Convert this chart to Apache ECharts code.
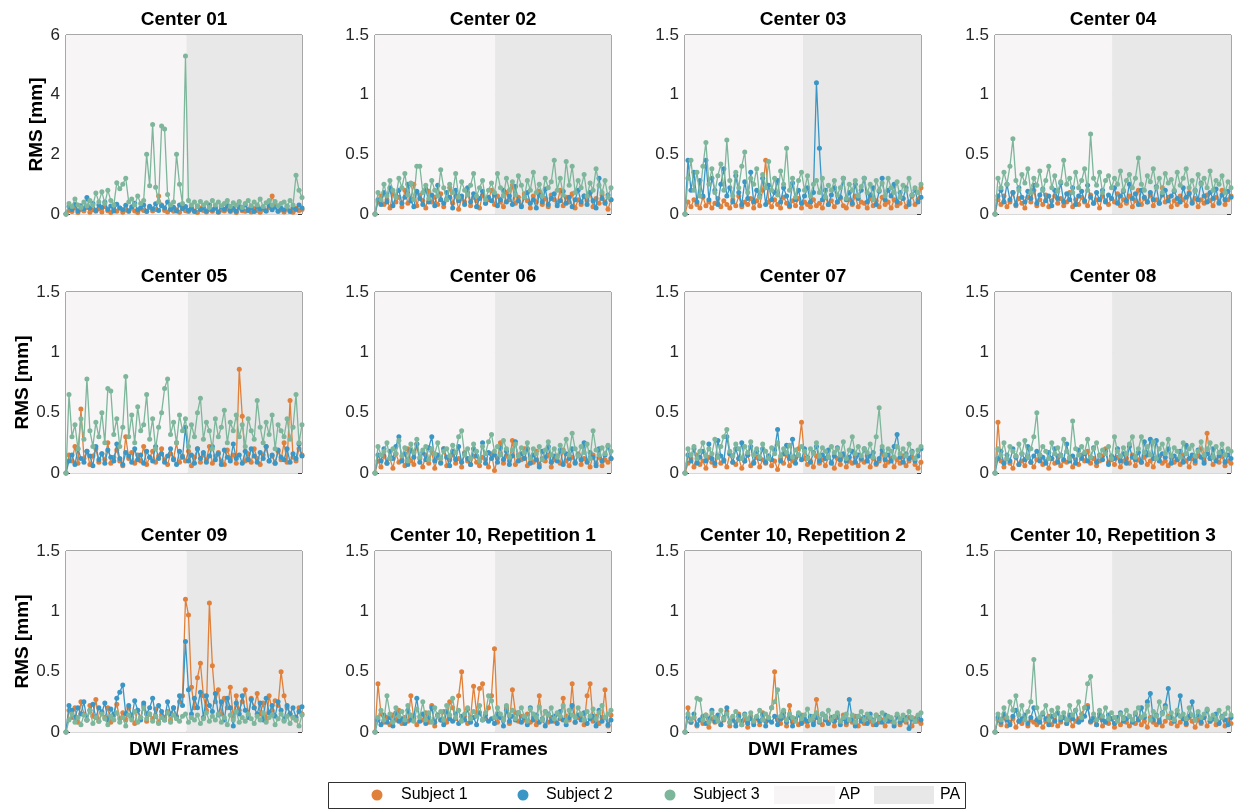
<!DOCTYPE html>
<html><head><meta charset="utf-8">
<script src="https://cdn.jsdelivr.net/npm/echarts@6/dist/echarts.min.js"></script>
<style>html,body{margin:0;padding:0;background:#fff}#c{width:1235px;height:809px}</style>
</head><body><div id="c"></div>
<script>
// ---------------- DATA ----------------
const panelTitles = ['Center 01','Center 02','Center 03','Center 04','Center 05','Center 06','Center 07','Center 08','Center 09','Center 10, Repetition 1','Center 10, Repetition 2','Center 10, Repetition 3'];
const subjects = ['Subject 1','Subject 2','Subject 3'];
const phaseNames = ['AP','PA'];
const yMax  = [6,1.5,1.5,1.5,1.5,1.5,1.5,1.5,1.5,1.5,1.5,1.5];
const yStep = [2,0.5,0.5,0.5,0.5,0.5,0.5,0.5,0.5,0.5,0.5,0.5];
// frame index where AP ends and PA begins
const apEnd = [40.3,40.2,39.5,39.2,40.8,40.2,39.5,39.2,40.4,40.2,39.5,39.2];

const c01s1=[0,0.12,0.08,0.2,0.05,0.15,0.1,0.22,0.06,0.14,
0.09,0.18,0.07,0.25,0.11,0.05,0.16,0.09,0.2,0.06,
0.13,0.08,0.19,0.1,0.05,0.17,0.12,0.08,0.22,0.1,
0.15,0.6,0.3,0.12,0.07,0.18,0.09,0.14,0.06,0.2,
0.11,0.08,0.16,0.1,0.05,0.19,0.12,0.07,0.15,0.09,
0.21,0.06,0.13,0.1,0.17,0.08,0.14,0.05,0.2,0.11,
0.09,0.16,0.07,0.18,0.12,0.06,0.15,0.1,0.22,0.6,
0.25,0.09,0.14,0.07,0.17,0.11,0.06,0.19,0.12,0.15];
const c01s2=[0,0.25,0.15,0.32,0.1,0.28,0.18,0.55,0.2,0.35,
0.12,0.3,0.22,0.4,0.15,0.27,0.1,0.33,0.2,0.14,
0.29,0.11,0.24,0.36,0.13,0.21,0.3,0.09,0.26,0.17,
0.34,0.12,0.28,0.2,0.4,0.15,0.23,0.1,0.3,0.18,
0.25,0.12,0.2,0.08,0.27,0.15,0.22,0.1,0.3,0.14,
0.19,0.07,0.25,0.16,0.28,0.11,0.2,0.09,0.24,0.15,
0.3,0.12,0.22,0.08,0.26,0.17,0.2,0.1,0.28,0.14,
0.23,0.09,0.19,0.13,0.27,0.08,0.22,0.15,0.3,0.2];
const c01s3=[0,0.35,0.25,0.5,0.3,0.22,0.4,0.28,0.45,0.3,
0.7,0.4,0.75,0.35,0.8,0.45,0.3,1.05,0.85,1.0,
1.2,0.4,0.5,0.3,0.6,0.35,0.45,2.0,0.95,3.0,
0.9,0.4,2.95,2.85,0.65,0.3,0.4,2.0,1.0,0.35,
5.3,0.45,0.3,0.4,0.25,0.42,0.3,0.38,0.22,0.45,
0.3,0.4,0.28,0.35,0.45,0.25,0.38,0.3,0.42,0.22,
0.35,0.45,0.28,0.4,0.3,0.5,0.25,0.38,0.45,0.3,
0.42,0.28,0.35,0.4,0.25,0.45,0.3,1.3,0.8,0.55];

const c02s1=[0,0.1,0.15,0.08,0.12,0.05,0.18,0.1,0.14,0.06,
0.2,0.09,0.13,0.25,0.07,0.16,0.11,0.05,0.19,0.1,
0.14,0.08,0.17,0.06,0.12,0.22,0.09,0.15,0.04,0.13,
0.1,0.18,0.07,0.14,0.11,0.05,0.16,0.09,0.12,0.2,
0.08,0.15,0.1,0.06,0.18,0.12,0.24,0.09,0.14,0.07,
0.17,0.11,0.05,0.15,0.1,0.19,0.08,0.13,0.06,0.16,
0.12,0.09,0.2,0.07,0.14,0.1,0.17,0.05,0.12,0.08,
0.15,0.11,0.18,0.06,0.13,0.09,0.16,0.1,0.04,0.12];
const c02s2=[0,0.12,0.08,0.18,0.1,0.22,0.07,0.15,0.2,0.09,
0.14,0.25,0.11,0.06,0.19,0.13,0.08,0.21,0.1,0.16,
0.07,0.24,0.12,0.09,0.18,0.14,0.05,0.2,0.11,0.15,
0.08,0.22,0.1,0.17,0.06,0.13,0.19,0.09,0.14,0.11,
0.16,0.07,0.12,0.2,0.1,0.15,0.08,0.23,0.11,0.06,
0.14,0.18,0.09,0.12,0.05,0.16,0.1,0.21,0.08,0.13,
0.17,0.07,0.11,0.19,0.09,0.14,0.06,0.12,0.2,0.1,
0.15,0.08,0.18,0.11,0.05,0.3,0.13,0.09,0.16,0.12];
const c02s3=[0,0.18,0.12,0.25,0.15,0.28,0.2,0.14,0.3,0.22,
0.34,0.16,0.26,0.12,0.4,0.4,0.18,0.24,0.13,0.28,
0.2,0.15,0.37,0.22,0.12,0.25,0.18,0.34,0.14,0.27,
0.2,0.16,0.24,0.34,0.15,0.22,0.28,0.12,0.2,0.26,
0.18,0.34,0.22,0.15,0.3,0.2,0.27,0.16,0.32,0.24,
0.14,0.28,0.2,0.35,0.18,0.25,0.15,0.3,0.22,0.27,
0.45,0.2,0.3,0.16,0.44,0.24,0.4,0.18,0.28,0.22,
0.33,0.15,0.26,0.2,0.38,0.24,0.18,0.28,0.14,0.22];

const c03s1=[0,0.1,0.06,0.12,0.08,0.05,0.14,0.07,0.1,0.05,
0.09,0.13,0.06,0.11,0.08,0.05,0.12,0.07,0.15,0.06,
0.1,0.08,0.13,0.05,0.11,0.07,0.2,0.45,0.1,0.06,
0.12,0.08,0.05,0.14,0.09,0.06,0.11,0.07,0.13,0.05,
0.1,0.08,0.06,0.12,0.07,0.09,0.05,0.14,0.08,0.11,
0.06,0.1,0.13,0.07,0.05,0.12,0.08,0.15,0.06,0.1,
0.09,0.05,0.13,0.07,0.11,0.06,0.14,0.08,0.1,0.05,
0.12,0.07,0.09,0.13,0.06,0.1,0.15,0.08,0.12,0.22];
const c03s2=[0,0.45,0.2,0.35,0.1,0.28,0.15,0.45,0.12,0.3,
0.2,0.08,0.25,0.38,0.15,0.22,0.1,0.32,0.18,0.08,
0.27,0.13,0.35,0.1,0.2,0.15,0.3,0.08,0.24,0.12,
0.18,0.28,0.1,0.22,0.15,0.07,0.26,0.12,0.2,0.09,
0.15,0.22,0.1,0.18,1.1,0.55,0.12,0.2,0.08,0.16,
0.22,0.1,0.14,0.3,0.12,0.18,0.09,0.25,0.13,0.2,
0.3,0.1,0.16,0.22,0.08,0.19,0.3,0.12,0.2,0.15,
0.25,0.1,0.18,0.13,0.22,0.08,0.16,0.2,0.1,0.14];
const c03s3=[0,0.3,0.45,0.2,0.35,0.15,0.4,0.6,0.25,0.38,
0.18,0.32,0.42,0.2,0.62,0.28,0.15,0.35,0.22,0.4,
0.52,0.18,0.3,0.25,0.38,0.14,0.33,0.22,0.44,0.2,
0.3,0.16,0.36,0.25,0.55,0.2,0.3,0.14,0.28,0.35,
0.2,0.32,0.15,0.25,0.28,0.18,0.3,0.14,0.24,0.2,
0.28,0.16,0.22,0.3,0.13,0.25,0.2,0.28,0.15,0.23,
0.3,0.18,0.25,0.12,0.28,0.2,0.26,0.15,0.3,0.22,
0.18,0.27,0.14,0.24,0.2,0.3,0.16,0.22,0.18,0.25];

const c04s1=[0,0.12,0.08,0.15,0.06,0.1,0.18,0.07,0.13,0.09,
0.05,0.14,0.1,0.2,0.07,0.12,0.08,0.16,0.06,0.11,
0.15,0.09,0.13,0.07,0.1,0.18,0.06,0.12,0.08,0.14,
0.1,0.07,0.16,0.09,0.12,0.05,0.15,0.11,0.08,0.13,
0.1,0.17,0.07,0.12,0.09,0.15,0.06,0.11,0.2,0.08,
0.13,0.1,0.16,0.07,0.12,0.09,0.22,0.1,0.14,0.06,
0.11,0.08,0.15,0.12,0.07,0.18,0.1,0.13,0.06,0.12,
0.09,0.16,0.11,0.07,0.14,0.1,0.2,0.08,0.12,0.15];
const c04s2=[0,0.15,0.2,0.1,0.25,0.12,0.18,0.08,0.22,0.14,
0.1,0.19,0.13,0.24,0.09,0.16,0.21,0.11,0.15,0.07,
0.2,0.13,0.26,0.1,0.17,0.12,0.22,0.08,0.15,0.19,
0.11,0.24,0.14,0.09,0.18,0.12,0.2,0.1,0.16,0.13,
0.22,0.09,0.15,0.19,0.11,0.25,0.13,0.17,0.08,0.2,
0.14,0.1,0.18,0.12,0.23,0.09,0.16,0.2,0.11,0.15,
0.19,0.13,0.1,0.22,0.14,0.17,0.09,0.2,0.12,0.26,
0.15,0.1,0.18,0.13,0.21,0.09,0.16,0.12,0.19,0.14];
const c04s3=[0,0.3,0.22,0.35,0.25,0.4,0.63,0.28,0.2,0.33,
0.26,0.38,0.18,0.3,0.24,0.36,0.2,0.28,0.4,0.22,
0.32,0.19,0.27,0.45,0.25,0.3,0.18,0.35,0.22,0.28,
0.38,0.2,0.67,0.3,0.24,0.35,0.18,0.28,0.32,0.22,
0.3,0.25,0.36,0.2,0.28,0.33,0.22,0.3,0.47,0.25,
0.2,0.32,0.27,0.38,0.22,0.3,0.18,0.34,0.26,0.29,
0.2,0.35,0.24,0.3,0.38,0.22,0.28,0.19,0.33,0.25,
0.3,0.22,0.36,0.2,0.28,0.25,0.32,0.18,0.27,0.22];

const c05s1=[0,0.15,0.1,0.22,0.08,0.53,0.12,0.18,0.07,0.14,
0.2,0.09,0.16,0.11,0.25,0.08,0.13,0.19,0.1,0.06,
0.3,0.12,0.17,0.08,0.15,0.1,0.22,0.07,0.13,0.18,
0.09,0.14,0.2,0.11,0.07,0.16,0.12,0.25,0.09,0.14,
0.1,0.18,0.06,0.13,0.2,0.09,0.15,0.11,0.22,0.08,
0.14,0.17,0.1,0.07,0.19,0.12,0.15,0.08,0.86,0.47,
0.1,0.16,0.09,0.2,0.12,0.07,0.15,0.22,0.1,0.14,
0.08,0.18,0.11,0.25,0.09,0.6,0.13,0.1,0.2,0.15];
const c05s2=[0,0.1,0.15,0.07,0.2,0.12,0.09,0.18,0.14,0.06,
0.22,0.11,0.16,0.08,0.19,0.13,0.1,0.24,0.12,0.07,
0.17,0.14,0.09,0.2,0.11,0.15,0.08,0.18,0.13,0.1,
0.22,0.12,0.16,0.09,0.14,0.2,0.11,0.07,0.18,0.13,
0.38,0.1,0.15,0.08,0.2,0.12,0.17,0.09,0.14,0.22,
0.11,0.16,0.07,0.19,0.13,0.1,0.24,0.12,0.15,0.08,
0.18,0.11,0.2,0.14,0.09,0.17,0.12,0.22,0.1,0.15,
0.08,0.19,0.13,0.11,0.2,0.09,0.16,0.12,0.24,0.14];
const c05s3=[0,0.65,0.3,0.4,0.2,0.45,0.28,0.78,0.35,0.22,
0.42,0.3,0.5,0.25,0.7,0.68,0.32,0.45,0.22,0.38,
0.8,0.3,0.48,0.25,0.55,0.35,0.4,0.65,0.28,0.45,
0.2,0.38,0.5,0.7,0.78,0.32,0.42,0.25,0.48,0.35,
0.45,0.22,0.4,0.3,0.5,0.62,0.28,0.42,0.35,0.2,
0.45,0.3,0.38,0.52,0.25,0.42,0.35,0.48,0.3,0.4,
0.22,0.45,0.35,0.28,0.6,0.38,0.25,0.42,0.32,0.48,
0.2,0.4,0.35,0.3,0.45,0.28,0.38,0.65,0.25,0.4];

const c06s1=[0,0.1,0.05,0.14,0.08,0.12,0.04,0.16,0.09,0.11,
0.06,0.2,0.1,0.07,0.24,0.12,0.05,0.15,0.08,0.18,
0.04,0.13,0.09,0.2,0.06,0.11,0.15,0.08,0.12,0.05,
0.17,0.1,0.07,0.14,0.09,0.06,0.13,0.11,0.05,0.16,
0.02,0.12,0.25,0.08,0.14,0.1,0.27,0.07,0.15,0.11,
0.2,0.06,0.13,0.09,0.18,0.07,0.12,0.1,0.15,0.05,
0.11,0.14,0.08,0.19,0.1,0.06,0.13,0.09,0.16,0.07,
0.12,0.1,0.05,0.15,0.08,0.13,0.06,0.11,0.09,0.12];
const c06s2=[0,0.15,0.1,0.2,0.08,0.18,0.12,0.22,0.3,0.1,
0.16,0.07,0.19,0.13,0.24,0.09,0.17,0.11,0.21,0.3,
0.1,0.15,0.08,0.2,0.13,0.06,0.18,0.11,0.22,0.09,
0.16,0.12,0.07,0.2,0.14,0.1,0.25,0.08,0.17,0.12,
0.15,0.09,0.21,0.11,0.18,0.07,0.14,0.26,0.1,0.16,
0.12,0.2,0.08,0.15,0.11,0.05,0.18,0.13,0.22,0.09,
0.14,0.1,0.19,0.07,0.16,0.12,0.2,0.08,0.15,0.11,
0.25,0.09,0.17,0.13,0.06,0.2,0.1,0.15,0.22,0.12];
const c06s3=[0,0.22,0.15,0.18,0.25,0.12,0.2,0.16,0.27,0.14,
0.21,0.1,0.24,0.17,0.28,0.13,0.19,0.22,0.11,0.2,
0.16,0.25,0.12,0.18,0.2,0.14,0.23,0.17,0.3,0.35,
0.15,0.2,0.12,0.24,0.18,0.1,0.22,0.16,0.26,0.32,
0.18,0.22,0.15,0.27,0.2,0.13,0.19,0.24,0.14,0.21,
0.17,0.25,0.12,0.2,0.16,0.22,0.11,0.19,0.26,0.15,
0.2,0.13,0.23,0.18,0.28,0.15,0.33,0.2,0.14,0.22,
0.17,0.24,0.12,0.35,0.19,0.15,0.21,0.16,0.23,0.18];

const c07s1=[0,0.08,0.12,0.05,0.15,0.07,0.1,0.04,0.13,0.09,
0.06,0.14,0.08,0.11,0.05,0.16,0.09,0.07,0.12,0.04,
0.1,0.15,0.06,0.09,0.13,0.05,0.11,0.08,0.14,0.06,
0.1,0.03,0.12,0.08,0.15,0.06,0.1,0.13,0.2,0.42,
0.12,0.07,0.1,0.05,0.14,0.08,0.11,0.06,0.13,0.09,
0.04,0.12,0.07,0.15,0.05,0.1,0.08,0.13,0.06,0.11,
0.09,0.14,0.05,0.12,0.07,0.1,0.16,0.06,0.09,0.12,
0.05,0.11,0.08,0.14,0.06,0.1,0.13,0.07,0.04,0.09];
const c07s2=[0,0.15,0.1,0.2,0.08,0.13,0.18,0.1,0.24,0.12,
0.08,0.27,0.14,0.1,0.3,0.16,0.09,0.2,0.12,0.25,
0.1,0.15,0.22,0.08,0.18,0.12,0.2,0.09,0.14,0.11,
0.19,0.36,0.1,0.16,0.23,0.12,0.28,0.08,0.15,0.11,
0.2,0.13,0.09,0.17,0.22,0.1,0.15,0.12,0.19,0.08,
0.14,0.21,0.11,0.16,0.1,0.13,0.18,0.09,0.15,0.12,
0.2,0.1,0.14,0.17,0.08,0.12,0.19,0.11,0.15,0.1,
0.22,0.32,0.13,0.09,0.16,0.12,0.18,0.1,0.14,0.2];
const c07s3=[0,0.2,0.15,0.22,0.12,0.18,0.25,0.14,0.2,0.16,
0.28,0.13,0.22,0.3,0.36,0.18,0.14,0.24,0.2,0.12,
0.22,0.17,0.26,0.15,0.2,0.13,0.24,0.18,0.12,0.21,
0.16,0.25,0.14,0.2,0.17,0.23,0.13,0.19,0.15,0.22,
0.18,0.12,0.2,0.16,0.25,0.14,0.21,0.18,0.13,0.22,
0.17,0.2,0.15,0.26,0.12,0.19,0.3,0.16,0.22,0.14,
0.2,0.17,0.24,0.13,0.3,0.54,0.22,0.15,0.2,0.18,
0.13,0.22,0.16,0.2,0.14,0.24,0.17,0.12,0.19,0.22];

const c08s1=[0,0.42,0.1,0.05,0.12,0.08,0.04,0.14,0.07,0.1,
0.06,0.13,0.09,0.05,0.11,0.15,0.07,0.1,0.04,0.12,
0.08,0.14,0.06,0.1,0.09,0.13,0.05,0.11,0.07,0.15,
0.1,0.18,0.08,0.12,0.06,0.1,0.14,0.2,0.09,0.11,
0.07,0.13,0.05,0.1,0.12,0.08,0.15,0.06,0.11,0.09,
0.13,0.07,0.1,0.05,0.12,0.14,0.08,0.1,0.06,0.13,
0.09,0.11,0.07,0.15,0.1,0.05,0.12,0.08,0.14,0.2,
0.1,0.33,0.12,0.07,0.11,0.09,0.14,0.06,0.1,0.08];
const c08s2=[0,0.12,0.18,0.08,0.15,0.1,0.2,0.13,0.07,0.16,
0.11,0.22,0.09,0.14,0.18,0.1,0.13,0.08,0.17,0.12,
0.2,0.09,0.15,0.11,0.24,0.1,0.14,0.08,0.19,0.12,
0.16,0.1,0.13,0.21,0.09,0.15,0.11,0.18,0.07,0.14,
0.12,0.2,0.1,0.16,0.08,0.22,0.13,0.11,0.17,0.09,
0.26,0.15,0.28,0.12,0.27,0.1,0.16,0.13,0.2,0.08,
0.14,0.11,0.18,0.09,0.23,0.12,0.15,0.1,0.19,0.13,
0.08,0.16,0.12,0.2,0.1,0.14,0.18,0.09,0.15,0.12];
const c08s3=[0,0.2,0.15,0.25,0.12,0.22,0.18,0.14,0.24,0.16,
0.27,0.13,0.2,0.3,0.5,0.15,0.22,0.18,0.12,0.25,
0.16,0.21,0.14,0.28,0.18,0.12,0.43,0.2,0.15,0.22,
0.17,0.28,0.13,0.2,0.25,0.14,0.19,0.16,0.22,0.12,
0.3,0.18,0.14,0.21,0.16,0.24,0.3,0.13,0.2,0.3,
0.17,0.22,0.15,0.26,0.12,0.2,0.24,0.16,0.28,0.14,
0.21,0.18,0.13,0.25,0.16,0.2,0.23,0.14,0.18,0.26,
0.15,0.2,0.25,0.13,0.22,0.17,0.24,0.15,0.2,0.18];

const c09s1=[0,0.18,0.12,0.2,0.08,0.25,0.15,0.1,0.22,0.13,
0.27,0.09,0.17,0.12,0.2,0.08,0.15,0.23,0.11,0.16,
0.1,0.2,0.14,0.07,0.18,0.12,0.22,0.09,0.15,0.11,
0.19,0.08,0.14,0.12,0.17,0.1,0.2,0.13,0.25,0.3,
1.1,0.97,0.37,0.2,0.45,0.57,0.3,0.18,1.07,0.55,
0.25,0.35,0.15,0.28,0.2,0.37,0.12,0.3,0.18,0.25,
0.35,0.14,0.28,0.2,0.32,0.15,0.24,0.1,0.3,0.18,
0.26,0.22,0.5,0.3,0.2,0.15,0.12,0.1,0.2,0.15];
const c09s2=[0,0.22,0.18,0.12,0.2,0.15,0.25,0.1,0.18,0.23,
0.12,0.2,0.16,0.24,0.1,0.19,0.14,0.28,0.33,0.39,
0.15,0.22,0.12,0.26,0.18,0.1,0.24,0.15,0.2,0.28,
0.13,0.22,0.17,0.1,0.25,0.15,0.2,0.12,0.3,0.22,
0.75,0.35,0.15,0.28,0.2,0.33,0.12,0.3,0.22,0.17,
0.32,0.14,0.25,0.1,0.28,0.2,0.05,0.24,0.15,0.3,
0.18,0.12,0.27,0.2,0.15,0.24,0.1,0.28,0.16,0.22,
0.13,0.25,0.18,0.1,0.22,0.15,0.2,0.12,0.17,0.21];
const c09s3=[0,0.1,0.15,0.08,0.12,0.06,0.14,0.1,0.18,0.07,
0.12,0.09,0.15,0.11,0.06,0.13,0.1,0.16,0.08,0.12,
0.05,0.14,0.1,0.17,0.08,0.12,0.2,0.11,0.15,0.09,
0.13,0.07,0.12,0.1,0.16,0.08,0.14,0.11,0.09,0.13,
0.15,0.08,0.12,0.1,0.14,0.07,0.11,0.16,0.09,0.13,
0.1,0.15,0.08,0.12,0.06,0.14,0.1,0.17,0.08,0.12,
0.09,0.15,0.11,0.07,0.13,0.1,0.16,0.08,0.12,0.14,
0.06,0.11,0.15,0.09,0.13,0.07,0.12,0.1,0.05,0.14];

const c10as1=[0,0.4,0.15,0.08,0.12,0.06,0.14,0.1,0.18,0.07,
0.12,0.09,0.3,0.11,0.06,0.13,0.1,0.16,0.08,0.22,
0.05,0.14,0.1,0.17,0.08,0.25,0.2,0.11,0.3,0.5,
0.13,0.07,0.12,0.38,0.16,0.36,0.4,0.11,0.2,0.3,
0.69,0.08,0.12,0.1,0.2,0.07,0.35,0.16,0.09,0.13,
0.1,0.15,0.08,0.12,0.06,0.3,0.1,0.17,0.08,0.12,
0.09,0.15,0.11,0.28,0.13,0.1,0.4,0.08,0.12,0.14,
0.06,0.3,0.4,0.09,0.13,0.07,0.12,0.35,0.05,0.14];
const c10as2=[0,0.1,0.06,0.14,0.08,0.12,0.05,0.16,0.09,0.11,
0.07,0.18,0.1,0.13,0.28,0.09,0.15,0.07,0.12,0.2,
0.08,0.14,0.1,0.06,0.17,0.11,0.09,0.15,0.07,0.13,
0.1,0.19,0.08,0.12,0.06,0.16,0.1,0.14,0.09,0.11,
0.07,0.15,0.12,0.05,0.18,0.09,0.13,0.1,0.16,0.08,
0.12,0.06,0.2,0.1,0.14,0.08,0.11,0.05,0.15,0.09,
0.13,0.07,0.17,0.1,0.06,0.12,0.22,0.08,0.14,0.1,
0.16,0.07,0.11,0.13,0.05,0.18,0.09,0.12,0.06,0.1];
const c10as3=[0,0.12,0.18,0.1,0.3,0.15,0.08,0.2,0.13,0.17,
0.1,0.22,0.14,0.09,0.19,0.12,0.25,0.1,0.16,0.08,
0.2,0.13,0.17,0.1,0.22,0.14,0.28,0.12,0.18,0.09,
0.15,0.2,0.11,0.17,0.13,0.22,0.1,0.16,0.3,0.26,
0.12,0.2,0.15,0.1,0.22,0.14,0.18,0.11,0.16,0.2,
0.13,0.09,0.19,0.15,0.12,0.21,0.1,0.17,0.14,0.2,
0.11,0.16,0.13,0.22,0.09,0.18,0.14,0.12,0.2,0.15,
0.1,0.17,0.13,0.19,0.11,0.16,0.22,0.12,0.15,0.18];

const c10bs1=[0,0.2,0.08,0.12,0.05,0.1,0.07,0.14,0.04,0.11,
0.08,0.13,0.06,0.1,0.17,0.05,0.12,0.08,0.15,0.06,
0.1,0.04,0.13,0.08,0.11,0.06,0.16,0.09,0.12,0.2,
0.5,0.1,0.07,0.12,0.05,0.22,0.08,0.11,0.06,0.14,
0.09,0.05,0.12,0.08,0.27,0.1,0.06,0.13,0.08,0.11,
0.05,0.12,0.09,0.14,0.06,0.1,0.08,0.13,0.05,0.11,
0.07,0.12,0.09,0.06,0.14,0.08,0.1,0.05,0.12,0.09,
0.07,0.13,0.06,0.1,0.08,0.12,0.05,0.11,0.09,0.07];
const c10bs2=[0,0.12,0.08,0.15,0.06,0.1,0.13,0.07,0.11,0.18,
0.09,0.14,0.06,0.12,0.2,0.08,0.1,0.05,0.13,0.09,
0.15,0.07,0.11,0.06,0.12,0.09,0.14,0.05,0.1,0.08,
0.13,0.06,0.11,0.16,0.08,0.12,0.05,0.1,0.14,0.07,
0.11,0.09,0.13,0.06,0.12,0.08,0.15,0.1,0.07,0.12,
0.09,0.14,0.06,0.11,0.08,0.27,0.1,0.05,0.13,0.09,
0.12,0.07,0.15,0.1,0.06,0.12,0.08,0.14,0.09,0.11,
0.05,0.13,0.08,0.1,0.12,0.03,0.11,0.09,0.13,0.1];
const c10bs3=[0,0.15,0.1,0.12,0.28,0.27,0.1,0.14,0.08,0.16,
0.12,0.09,0.18,0.11,0.15,0.08,0.13,0.17,0.1,0.06,
0.14,0.11,0.16,0.09,0.13,0.18,0.1,0.15,0.12,0.2,
0.25,0.35,0.13,0.18,0.1,0.15,0.12,0.09,0.16,0.11,
0.14,0.19,0.1,0.13,0.16,0.09,0.15,0.12,0.18,0.1,
0.13,0.16,0.09,0.12,0.15,0.1,0.14,0.08,0.13,0.17,
0.1,0.15,0.12,0.09,0.14,0.11,0.16,0.1,0.13,0.12,
0.08,0.15,0.11,0.14,0.1,0.17,0.12,0.09,0.14,0.16];

const c10cs1=[0,0.1,0.06,0.12,0.05,0.08,0.11,0.04,0.09,0.07,
0.12,0.05,0.1,0.08,0.06,0.11,0.04,0.09,0.13,0.06,
0.1,0.05,0.08,0.12,0.07,0.1,0.05,0.09,0.11,0.15,
0.2,0.22,0.08,0.1,0.06,0.12,0.05,0.09,0.07,0.11,
0.04,0.1,0.06,0.12,0.08,0.05,0.1,0.07,0.11,0.06,
0.09,0.04,0.12,0.08,0.06,0.1,0.05,0.09,0.13,0.07,
0.1,0.05,0.08,0.11,0.06,0.12,0.09,0.04,0.1,0.07,
0.13,0.05,0.09,0.11,0.06,0.08,0.12,0.05,0.1,0.07];
const c10cs2=[0,0.12,0.08,0.15,0.1,0.06,0.13,0.18,0.09,0.11,
0.14,0.07,0.12,0.2,0.1,0.08,0.15,0.11,0.06,0.13,
0.09,0.16,0.1,0.12,0.07,0.14,0.11,0.18,0.08,0.1,
0.13,0.2,0.09,0.12,0.06,0.15,0.1,0.08,0.14,0.11,
0.07,0.12,0.16,0.09,0.11,0.13,0.08,0.15,0.1,0.2,
0.12,0.25,0.32,0.1,0.14,0.08,0.16,0.22,0.36,0.12,
0.09,0.15,0.3,0.11,0.07,0.13,0.25,0.1,0.14,0.08,
0.12,0.18,0.09,0.11,0.15,0.07,0.13,0.1,0.06,0.12];
const c10cs3=[0,0.15,0.1,0.2,0.12,0.25,0.18,0.3,0.14,0.22,
0.1,0.17,0.25,0.6,0.2,0.12,0.16,0.22,0.1,0.18,
0.14,0.2,0.12,0.16,0.1,0.22,0.14,0.18,0.25,0.12,
0.2,0.4,0.46,0.15,0.1,0.18,0.13,0.2,0.11,0.16,
0.12,0.09,0.15,0.11,0.18,0.13,0.1,0.16,0.2,0.12,
0.14,0.22,0.1,0.17,0.13,0.25,0.15,0.2,0.12,0.16,
0.1,0.18,0.13,0.15,0.11,0.2,0.14,0.1,0.17,0.12,
0.15,0.19,0.11,0.14,0.1,0.18,0.12,0.15,0.2,0.14];

const panelData = [
  [c01s1,c01s2,c01s3],[c02s1,c02s2,c02s3],[c03s1,c03s2,c03s3],[c04s1,c04s2,c04s3],
  [c05s1,c05s2,c05s3],[c06s1,c06s2,c06s3],[c07s1,c07s2,c07s3],[c08s1,c08s2,c08s3],
  [c09s1,c09s2,c09s3],[c10as1,c10as2,c10as3],[c10bs1,c10bs2,c10bs3],[c10cs1,c10cs2,c10cs3]
];

// ---------------- STYLE / LAYOUT ----------------
const colors = ['#E0803A','#3A96C4','#7DB69B'];
const apColor = '#F7F5F6', paColor = '#E8E8E8';
const FONT = '"Liberation Sans", Arial, Helvetica, sans-serif';
const lefts = [66,375,685,995], tops = [35,292,551], heights = [179,181,181], W = 236;

const grids=[], xAxes=[], yAxes=[], series=[], graphics=[];
panelData.forEach((subs,k)=>{
  const r=Math.floor(k/4), c=k%4;
  const n = subs[0].length;
  grids.push({left:lefts[c], top:tops[r], width:W, height:heights[r], show:true,
    borderColor:'#505050', borderWidth:1, backgroundColor:'transparent'});
  xAxes.push({gridIndex:k, type:'value', min:0, max:n-1,
    axisLabel:{show:false}, axisTick:{show:false}, axisLine:{show:false}, splitLine:{show:false},
    name: r===2 ? 'DWI Frames' : '', nameLocation:'middle', nameGap:8,
    nameTextStyle:{fontFamily:FONT, fontWeight:'bold', fontSize:19, color:'#000', verticalAlign:'top'}});
  yAxes.push({gridIndex:k, type:'value', min:0, max:yMax[k], interval:yStep[k], position:'left',
    axisLine:{show:false}, axisTick:{show:true, inside:true, length:4, lineStyle:{color:'#404040'}},
    axisLabel:{fontFamily:FONT, fontSize:17, color:'#262626', margin:6},
    splitLine:{show:true, lineStyle:{color:'#d8d8d8', width:1}},
    name: c===0 ? 'RMS [mm]' : '', nameLocation:'middle', nameGap: (k===0 ? 20 : 33),
    nameTextStyle:{fontFamily:FONT, fontWeight:'bold', fontSize:19, color:'#000'}});
  yAxes.push({gridIndex:k, type:'value', min:0, max:yMax[k], interval:yStep[k], position:'right',
    axisLine:{show:false}, axisTick:{show:true, inside:true, length:4, lineStyle:{color:'#404040'}},
    axisLabel:{show:false}, splitLine:{show:false}});
  // AP / PA background
  series.push({type:'line', xAxisIndex:k, yAxisIndex:2*k, data:[], z:-1, silent:true,
    markArea:{silent:true, data:[
      [{name:'', xAxis:0, itemStyle:{color:apColor}},{xAxis:apEnd[k]}],
      [{name:'', xAxis:apEnd[k], itemStyle:{color:paColor}},{xAxis:n-1}]
    ]}});
  subs.forEach((arr,s)=>{
    series.push({type:'line', name:subjects[s], xAxisIndex:k, yAxisIndex:2*k,
      data: arr.map((v,i)=>[i,v]), symbol:'circle', symbolSize:5, showSymbol:true, showAllSymbol:true,
      lineStyle:{width:1.3, color:colors[s]}, itemStyle:{color:colors[s]}, z:2+s, silent:true, animation:false});
  });
  graphics.push({type:'text', x:lefts[c]+W/2, y:tops[r]-15,
    style:{text:panelTitles[k], font:'bold 19px '+FONT, fill:'#000', textAlign:'center', textVerticalAlign:'middle'}});
});

// Legend (bottom box)
const lgY = 795;
graphics.push({type:'rect', shape:{x:328.5, y:782.5, width:637, height:26}, style:{fill:'#fff', stroke:'#303030', lineWidth:1}});
const dotX=[377,523,670], txtX=[401,546,693];
subjects.forEach((s,i)=>{
  graphics.push({type:'circle', shape:{cx:dotX[i], cy:lgY, r:5.5}, style:{fill:colors[i]}});
  graphics.push({type:'text', x:txtX[i], y:lgY, style:{text:s, font:'16px '+FONT, fill:'#000', textVerticalAlign:'middle'}});
});
graphics.push({type:'rect', shape:{x:774, y:786, width:61, height:18}, style:{fill:apColor}});
graphics.push({type:'text', x:839, y:lgY, style:{text:phaseNames[0], font:'16px '+FONT, fill:'#000', textVerticalAlign:'middle'}});
graphics.push({type:'rect', shape:{x:874, y:786, width:60, height:18}, style:{fill:paColor}});
graphics.push({type:'text', x:940, y:lgY, style:{text:phaseNames[1], font:'16px '+FONT, fill:'#000', textVerticalAlign:'middle'}});

const chart = echarts.init(document.getElementById('c'));
chart.setOption({animation:false, backgroundColor:'#fff', grid:grids, xAxis:xAxes, yAxis:yAxes, series:series, graphic:graphics});
</script></body></html>
